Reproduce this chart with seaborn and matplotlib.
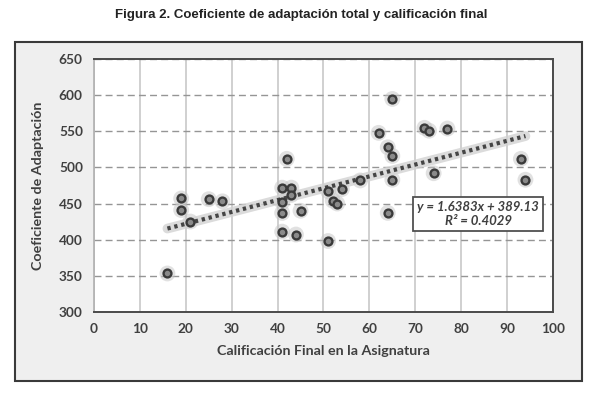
import numpy as np
import pandas as pd
import seaborn as sns
import matplotlib.pyplot as plt
from matplotlib.patches import Rectangle

# data
calificacion = [16, 19, 19, 21, 25, 28, 41, 43, 43, 41, 41, 45, 41, 44, 42,
                51, 51, 52, 53, 54, 58, 62, 64, 65, 65, 65, 64, 72, 73, 77,
                74, 93, 94]
coeficiente = [353, 457, 441, 425, 456, 453, 472, 472, 462, 452, 437, 440, 411,
               407, 512, 398, 467, 454, 450, 470, 482, 548, 528, 516, 595, 483,
               437, 555, 551, 554, 492, 512, 483]
x_ticks = [0, 10, 20, 30, 40, 50, 60, 70, 80, 90, 100]
y_ticks = [300, 350, 400, 450, 500, 550, 600, 650]
ecuacion = "y = 1.6383x + 389.13"
r2 = "R² = 0.4029"

df = pd.DataFrame({"x": calificacion, "y": coeficiente})

sns.set_style("white")
plt.rcParams["font.family"] = ["Lato", "DejaVu Sans"]

fig = plt.figure(figsize=(6.02, 3.94), dpi=100)
fig.patch.set_facecolor("white")

# grey frame around the chart
frame = Rectangle((0.0249, 0.033), 0.9419, 0.8594, transform=fig.transFigure,
                  facecolor="#efefef", edgecolor="#3a3a3a", linewidth=1.5, zorder=0)
fig.add_artist(frame)

ax = fig.add_axes([0.1561, 0.2089, 0.7625, 0.6406])
ax.set_zorder(2)
ax.set_facecolor("white")

# halo + markers
sns.scatterplot(data=df, x="x", y="y", ax=ax, s=130, color="#c4c4c4", alpha=0.5,
                edgecolor="none", legend=False, zorder=2)
sns.regplot(data=df, x="x", y="y", ax=ax, ci=None, scatter=False, truncate=True,
            line_kws=dict(color="#d2d2d2", linewidth=7, alpha=0.8, solid_capstyle="round",
                          zorder=3))
sns.regplot(data=df, x="x", y="y", ax=ax, ci=None, scatter=False, truncate=True,
            line_kws=dict(color="#454545", linewidth=3.0, linestyle=(0, (0.8, 0.9)),
                          zorder=4))
sns.scatterplot(data=df, x="x", y="y", ax=ax, s=32, color="#8a8a8a", edgecolor="#3a3a3a",
                linewidth=1.7, legend=False, zorder=5)

ax.set_xlim(0, 100)
ax.set_ylim(300, 650)
ax.set_xticks(x_ticks)
ax.set_yticks(y_ticks)

ax.grid(axis="x", color="#c4c4c4", linewidth=1.1, linestyle="-", zorder=1)
ax.grid(axis="y", color="#959595", linewidth=1.0, linestyle=(0, (5, 3)), zorder=1)
ax.set_axisbelow(True)

for side in ["top", "right", "bottom"]:
    ax.spines[side].set_color("#4a4a4a")
    ax.spines[side].set_linewidth(1.4)
ax.spines["left"].set_color("#b0b0b0")
ax.spines["left"].set_linewidth(1.2)

ax.tick_params(axis="both", direction="out", length=3, width=1, colors="#707070",
               labelcolor="#404040", labelsize=9.8, pad=5)
for lab in ax.get_xticklabels() + ax.get_yticklabels():
    lab.set_fontweight("bold")

ax.set_xlabel("Calificación Final en la Asignatura", fontsize=10.3, fontweight="bold",
              color="#404040", labelpad=7)
ax.set_ylabel("Coeficiente de Adaptación", fontsize=10.3, fontweight="bold",
              color="#404040", labelpad=11)

ax.text(0.837, 0.387, ecuacion + "\n" + r2, transform=ax.transAxes, ha="center",
        va="center", fontsize=9.5, fontstyle="italic", fontweight="bold", color="#404040",
        linespacing=1.25, zorder=6,
        bbox=dict(boxstyle="square,pad=0.3", facecolor="white", edgecolor="#505050",
                  linewidth=1.3))

fig.text(0.5, 0.962, "Figura 2. Coeficiente de adaptación total y calificación final",
         ha="center", va="center", fontsize=9.5, fontweight="bold", color="#222222",
         family=["Liberation Sans", "DejaVu Sans"])

fig.savefig("out.png", dpi=100)
